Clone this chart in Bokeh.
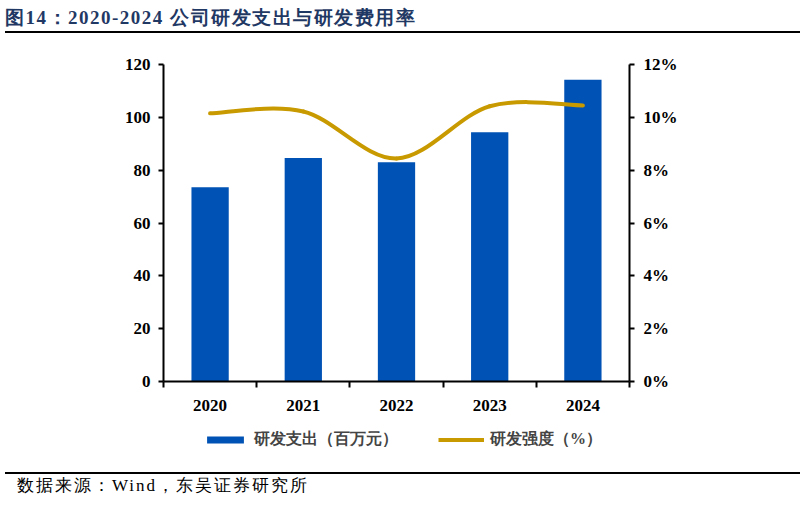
from bokeh.plotting import figure
from bokeh.layouts import column
from bokeh.models import (Range1d, LinearAxis, FixedTicker, PrintfTickFormatter,
                          Legend, LegendItem, Div)
from bokeh.embed import file_html
from bokeh.resources import INLINE

# data
years = ["2020", "2021", "2022", "2023", "2024"]
rd_spend = [73.5, 84.6, 83.0, 94.4, 114.2]      # 研发支出（百万元）
rd_ratio = [10.15, 10.22, 8.44, 10.42, 10.45]   # 研发强度（%）
left_ticks = [0, 20, 40, 60, 80, 100, 120]
right_ticks = [0, 2, 4, 6, 8, 10, 12]

title_text = "图14：2020-2024 公司研发支出与研发费用率"
source_text = "数据来源：Wind，东吴证券研究所"
spend_label = "研发支出（百万元）"
ratio_label = "研发强度（%）"

BAR = "#0052B4"
GOLD = "#C99A00"
NAVY = "#1F3864"
SERIF = "Liberation Serif"

W = 805

p = figure(width=W, height=380, x_range=Range1d(-0.5, 4.5), y_range=Range1d(0, 120),
           output_backend="svg", toolbar_location=None,
           min_border_left=163, min_border_right=176,
           min_border_top=29, min_border_bottom=34)
p.extra_y_ranges = {"pct": Range1d(0, 12)}
p.grid.visible = False
p.outline_line_color = None

xs = list(range(len(years)))
p.vbar(x=xs, top=rd_spend, width=0.4, fill_color=BAR, line_color=None)

# smoothed line like excel: catmull-rom style bezier segments
def controls(v):
    pad = [v[0]] + list(v) + [v[-1]]
    n = len(v)
    c0 = [pad[i + 1] + (pad[i + 2] - pad[i]) / 6 for i in range(n - 1)]
    c1 = [pad[i + 2] - (pad[i + 3] - pad[i + 1]) / 6 for i in range(n - 1)]
    return c0, c1

cx0, cx1 = controls(xs)
cy0, cy1 = controls(rd_ratio)
p.bezier(x0=xs[:-1], y0=rd_ratio[:-1], x1=xs[1:], y1=rd_ratio[1:],
         cx0=cx0, cy0=cy0, cx1=cx1, cy1=cy1,
         line_color=GOLD, line_width=4, line_cap="round",
         y_range_name="pct")

def style_axis(ax):
    ax.axis_line_width = 2
    ax.axis_line_color = "black"
    ax.major_tick_line_width = 2
    ax.major_tick_in = 0
    ax.major_tick_out = 5
    ax.minor_tick_line_color = None
    ax.major_label_text_font = SERIF
    ax.major_label_text_font_style = "bold"
    ax.major_label_text_font_size = "17px"
    ax.major_label_text_color = "black"

yl = p.yaxis[0]
style_axis(yl)
yl.ticker = FixedTicker(ticks=left_ticks)
yl.major_label_standoff = 8

yr = LinearAxis(y_range_name="pct", ticker=FixedTicker(ticks=right_ticks),
                formatter=PrintfTickFormatter(format="%d%%"))
style_axis(yr)
yr.major_label_standoff = 9
p.add_layout(yr, "right")

xa = p.xaxis[0]
style_axis(xa)
xa.ticker = FixedTicker(ticks=xs, minor_ticks=[x - 0.5 for x in xs] + [xs[-1] + 0.5])
xa.major_label_overrides = {x: y for x, y in zip(xs, years)}
xa.major_tick_line_color = None
xa.major_tick_out = 0
xa.minor_tick_line_color = "black"
xa.minor_tick_line_width = 2
xa.minor_tick_in = 0
xa.minor_tick_out = 6
xa.major_label_standoff = 12

# legend strip: its own small figure, the swatches come from hidden copies of the series
# (the column lines its frame up with the main frame, so x is counted from x=163)
lg = figure(width=W, height=51, output_backend="svg", toolbar_location=None,
            x_axis_type=None, y_axis_type=None, min_border=0)
lg.outline_line_color = None
key_bar = lg.vbar(x=xs, top=rd_spend, width=0.4, fill_color=BAR, line_color=None,
                  visible=False)
key_line = lg.line(x=xs, y=rd_ratio, line_color=GOLD, line_width=4, visible=False)
legend = Legend(items=[LegendItem(label=spend_label, renderers=[key_bar]),
                       LegendItem(label=ratio_label, renderers=[key_line])],
                orientation="horizontal", location=(39, 16),
                glyph_width=46, glyph_height=9, label_standoff=6, spacing=40,
                padding=0, margin=0, border_line_color=None,
                background_fill_alpha=0,
                label_text_font=SERIF, label_text_font_size="16px",
                label_text_font_style="bold")
lg.add_layout(legend, "center")

header = Div(text=f'<div style="margin-left:5px; margin-top:2px; width:795px; height:31px; '
                  f'line-height:31px; border-bottom:2px solid black; font-family:{SERIF}; '
                  f'font-size:19px; letter-spacing:1.5px; font-weight:bold; color:{NAVY}; '
                  f'white-space:nowrap;">{title_text}</div>',
             width=W, height=35, margin=0)
footer = Div(text=f'<div style="margin-left:5px; margin-top:6px; width:795px; '
                  f'border-top:2px solid black; padding-left:12px; line-height:24px; '
                  f'font-family:{SERIF}; font-size:17px; letter-spacing:2px; color:black; '
                  f'white-space:nowrap;">{source_text}</div>',
             width=W, height=41, margin=0)

layout = column(header, p, lg, footer, spacing=0)
open("out.html", "w").write(file_html(layout, INLINE))
